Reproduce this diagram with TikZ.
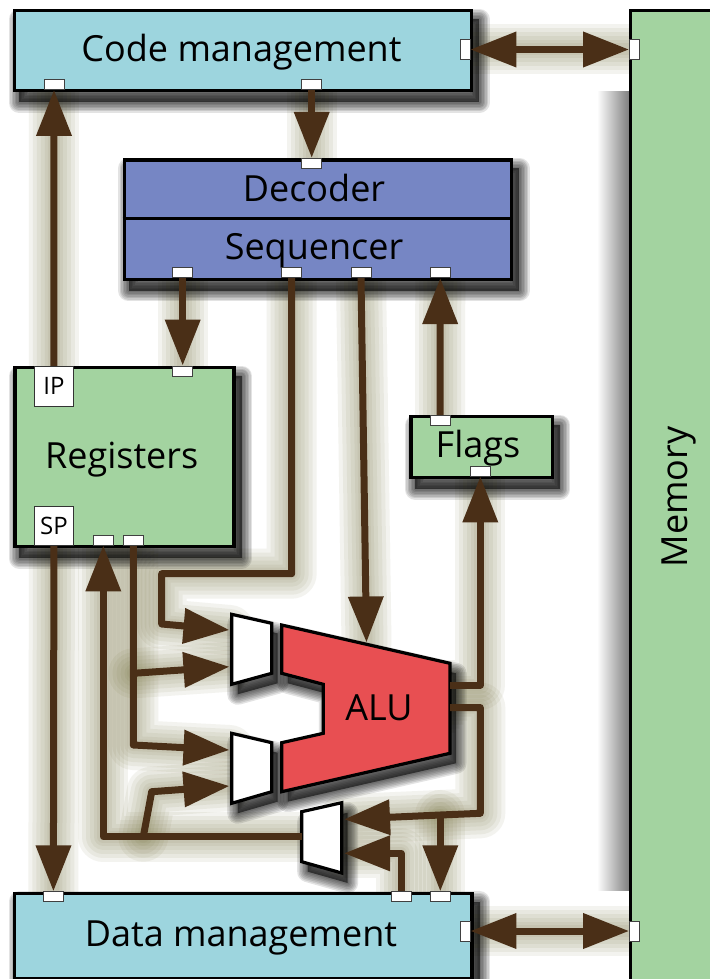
\documentclass[tikz,border=0pt]{standalone}
\usepackage{fontspec}
\setmainfont{Open Sans}
\usetikzlibrary{arrows.meta}

\definecolor{mgmtblue}{HTML}{9DD5DE}
\definecolor{ctrlblue}{HTML}{7686C4}
\definecolor{storegreen}{HTML}{A3D3A0}
\definecolor{alured}{HTML}{E84F52}
\definecolor{wirebrown}{HTML}{4A2F17}
\definecolor{haze}{HTML}{7F7848}

\pgfdeclarelayer{halo}
\pgfdeclarelayer{shade}
\pgfdeclarelayer{wires}
\pgfdeclarelayer{ports}
\pgfsetlayers{halo,shade,main,wires,ports}

\tikzset{
  frame/.style={draw=black, line width=3.2pt, inner sep=0pt, anchor=north west},
  part/.style={draw=black, line width=3.2pt, line join=miter},
  lbl/.style={anchor=base, inner sep=0pt, font=\fontsize{36}{40}\selectfont},
  tag/.style={draw=black!80, line width=0.8pt, fill=white, inner sep=0pt,
      anchor=north west, minimum width=39pt, minimum height=40pt,
      font=\fontsize{24}{26}\selectfont},
  hport/.style={draw=black!75, line width=0.8pt, fill=white, inner sep=0pt,
      minimum width=20pt, minimum height=10pt},
  vport/.style={hport, minimum width=10pt, minimum height=20pt},
  wire/.style={draw=wirebrown, line width=7pt, line join=round},
  halo/.style={draw=haze, line width=#1pt, opacity=.085, arrows=-,
      line cap=round, line join=round},
}

% soft drop shadow below and right of a closed outline
\newcommand\castshadow[1]{%
  \begin{scope}[transform canvas={xshift=6pt,yshift=-10pt}]
    \fill[black,opacity=.55] #1;
    \foreach \w in {3,6,9,12,15,18,21}{%
      \draw[black,opacity=.11,line width=\w pt,line join=round] #1;}
  \end{scope}}

% every data path of the datapath, drawn with the style given as argument
\newcommand\routing[1]{%
  \draw[<->,#1] (cpR.east) -- (mpT.west);
  \draw[->,#1] (cpB.south) -- (dpT.north);
  \draw[->,#1] (ipbox.north) -- (cpA.south);
  \draw[->,#1] (sp1.south) -- (rpT.north);
  \draw[->,#1] (fpT.north) -- (sp4.south);
  \draw[->,#1] (sp3.south) -- (aluTop);
  \draw[->,#1] (sp2.south) -- ++(0,295.6) -| (161.7,624) -- (muxAin1);
  \draw[->,#1] (rpB2.south) -- (tapA) -- (133.3,745) -- (muxBin1);
  \draw[->,#1] (tapA) -- (muxAin2);
  \draw[->,#1] (muxCout) -- (tapB) -| (rpB1.south);
  \draw[->,#1] (tapB) -- (151.7,791.7) -- (muxBin2);
  \draw[->,#1] (spbox.south) -- (dmT1.north);
  \draw[->,#1] (aluOut1) -| (fpB.south);
  \draw[->,#1] (aluOut2) -| (480.3,813.3) -- (tapC) -- (muxCin1);
  \draw[->,#1] (tapC) -- (dmT3.north);
  \draw[->,#1] (dmT2.north) |- (muxCin2);
  \draw[<->,#1] (dmR.east) -- (mpB.west);
}

\begin{document}
\begin{tikzpicture}[x=1pt,y=-1pt,>={Triangle[length=46pt,width=34pt]}]
\useasboundingbox (0,0) rectangle (709,979);
\begin{pgfonlayer}{halo}
  \fill[white] (0,0) rectangle (709,979);
\end{pgfonlayer}

% memory column on the right
\node[frame, fill=storegreen, minimum width=100pt, minimum height=1000pt] (mem) at (629,9.3) {};
\node[lbl, rotate=90] (tMem) at (687.3,497) {Memory};

% functional units
\node[frame, fill=mgmtblue, minimum width=457pt, minimum height=80pt] (code) at (13,9.3) {};
\node[lbl] (tCode) at (241.5,62) {Code management};

\node[frame, fill=ctrlblue, minimum width=387.3pt, minimum height=119.4pt] (seq) at (122.7,158.3) {};
\draw[line width=3.2pt] (seq.west |- 0,218.3) -- (seq.east |- 0,218.3);
\node[lbl] (tDec) at (314,201.7) {Decoder};
\node[lbl] (tSeq) at (314,259.5) {Sequencer};

\node[frame, fill=storegreen, minimum width=219pt, minimum height=179pt] (regs) at (13.3,366) {};
\node[lbl] (tRegs) at (121.7,468.3) {Registers};

\node[frame, fill=storegreen, minimum width=141.4pt, minimum height=61pt] (flags) at (409.3,415) {};
\node[lbl] (tFlags) at (478,457.3) {Flags};

\node[frame, fill=mgmtblue, minimum width=457.4pt, minimum height=85pt] (data) at (13,891.7) {};
\node[lbl] (tData) at (241,946.7) {Data management};

% ALU and operand multiplexers
\coordinate (alu1) at (281.7,625);   \coordinate (alu2) at (450,663.3);
\coordinate (alu3) at (450,753.3);   \coordinate (alu4) at (281.7,791.7);
\coordinate (alu5) at (281.7,742.7); \coordinate (alu6) at (323.3,733.3);
\coordinate (alu7) at (323.3,684.3); \coordinate (alu8) at (281.7,673.3);
\coordinate (mA1) at (231.7,614.3); \coordinate (mA2) at (271.7,623.3);
\coordinate (mA3) at (271.7,673.3); \coordinate (mA4) at (231.7,684.3);
\coordinate (mB1) at (231.7,733.3); \coordinate (mB2) at (271.7,742.7);
\coordinate (mB3) at (271.7,791.7); \coordinate (mB4) at (231.7,803.3);
\coordinate (mC1) at (301.7,811.7); \coordinate (mC2) at (341.7,802.7);
\coordinate (mC3) at (341.7,873);   \coordinate (mC4) at (301.7,861.7);

\draw[part, fill=alured] (alu1) -- (alu2) -- (alu3) -- (alu4) -- (alu5) -- (alu6) -- (alu7) -- (alu8) -- cycle;
\node[lbl] (tAlu) at (379,720) {ALU};
\draw[part, fill=white] (mA1) -- (mA2) -- (mA3) -- (mA4) -- cycle;
\draw[part, fill=white] (mB1) -- (mB2) -- (mB3) -- (mB4) -- cycle;
\draw[part, fill=white] (mC1) -- (mC2) -- (mC3) -- (mC4) -- cycle;

\coordinate (muxAin1) at (229.5,630);
\coordinate (muxAin2) at (229.5,666.7);
\coordinate (muxBin1) at (229.5,750);
\coordinate (muxBin2) at (229.5,786);
\coordinate (muxCin1) at (344,819.3);
\coordinate (muxCin2) at (344,853.3);
\coordinate (muxCout) at (301.7,836.7);
\coordinate (aluTop) at (366.5,642.5);
\coordinate (aluOut1) at (450,685);
\coordinate (aluOut2) at (450,707.5);
\coordinate (tapA) at (133.3,673.3);
\coordinate (tapB) at (143.3,836.7);
\coordinate (tapC) at (440.3,815);

% shadows
\begin{pgfonlayer}{shade}
  \shade[left color=white, right color=black!50] (597,92) rectangle (629,890);
  \castshadow{(code.north west) rectangle (code.south east)}
  \castshadow{(seq.north west) rectangle (seq.south east)}
  \castshadow{(regs.north west) rectangle (regs.south east)}
  \castshadow{(flags.north west) rectangle (flags.south east)}
  \castshadow{(data.north west) rectangle (data.south east)}
  \castshadow{(alu1) -- (alu2) -- (alu3) -- (alu4) -- (alu5) -- (alu6) -- (alu7) -- (alu8) -- cycle}
  \castshadow{(mA1) -- (mA2) -- (mA3) -- (mA4) -- cycle}
  \castshadow{(mB1) -- (mB2) -- (mB3) -- (mB4) -- cycle}
  \castshadow{(mC1) -- (mC2) -- (mC3) -- (mC4) -- cycle}
\end{pgfonlayer}

% ports
\begin{pgfonlayer}{ports}
  \node[hport] (cpA) at (54,84.5) {};
  \node[hport] (cpB) at (311.7,84.5) {};
  \node[vport] (cpR) at (465,49.5) {};
  \node[vport] (mpT) at (634.5,49.5) {};
  \node[hport] (dpT) at (311.7,163.3) {};
  \node[hport] (sp1) at (182.7,272.7) {};
  \node[hport] (sp2) at (291.7,272.7) {};
  \node[hport] (sp3) at (361,272.7) {};
  \node[hport] (sp4) at (440.3,272.7) {};
  \node[hport] (rpT) at (182.7,371) {};
  \node[hport] (rpB1) at (103.3,540) {};
  \node[hport] (rpB2) at (133.3,540) {};
  \node[tag] (ipbox) at (34,366) {IP};
  \node[tag, minimum height=39.3pt] (spbox) at (34,505.7) {SP};
  \node[hport] (fpT) at (440,420.5) {};
  \node[hport] (fpB) at (480.3,471) {};
  \node[hport] (dmT1) at (53.4,896.7) {};
  \node[hport] (dmT2) at (401,896.7) {};
  \node[hport] (dmT3) at (440.3,896.7) {};
  \node[vport] (dmR) at (465,931) {};
  \node[vport] (mpB) at (634.5,931) {};
\end{pgfonlayer}

% connectors: soft halo underneath, then the wires themselves
\begin{pgfonlayer}{halo}
  \foreach \w in {50,42,34,26,18,12}{\routing{halo=\w}}
\end{pgfonlayer}
\begin{pgfonlayer}{wires}
  \routing{wire}
\end{pgfonlayer}
\end{tikzpicture}
\end{document}
